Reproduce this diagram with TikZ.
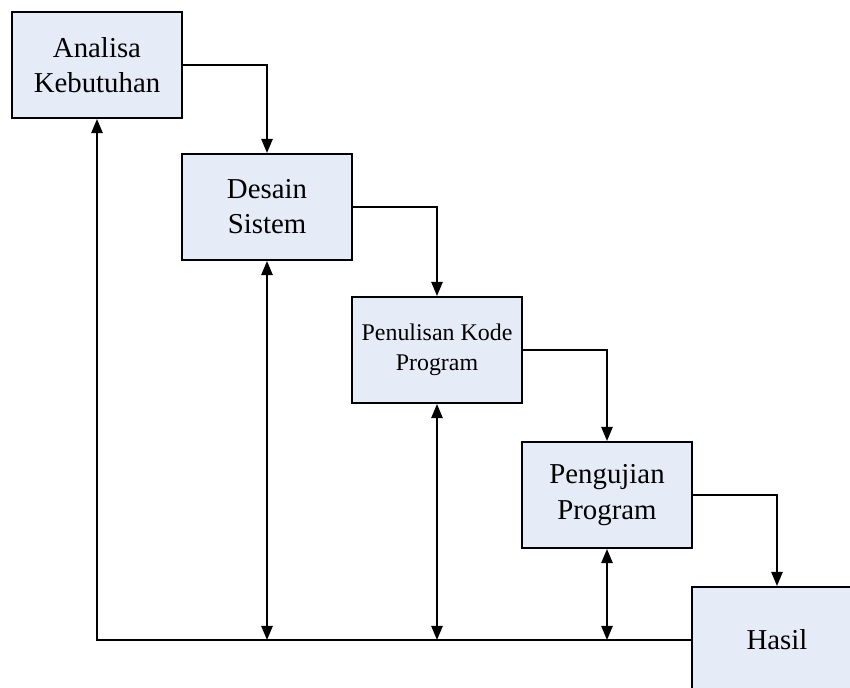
\documentclass[tikz,border=0pt]{standalone}
\usepackage{fontspec}
\setmainfont{Liberation Serif}
\usetikzlibrary{arrows.meta}
\definecolor{boxfill}{RGB}{230,236,247}

\begin{document}
\begin{tikzpicture}[x=0.025cm,y=-0.025cm,
    tahap/.style={draw,line width=1.4pt,fill=boxfill,minimum width=4.25cm,minimum height=2.65cm,align=center,font=\fontsize{20.5}{25}\selectfont},
    alur/.style={line width=1.3pt,-{Triangle[length=10pt,width=8pt]}},
    balik/.style={line width=1.3pt,{Triangle[length=10pt,width=8pt]}-{Triangle[length=10pt,width=8pt]}}]
    \clip (0,0) rectangle (850,688);
    %the five stages, each one step down and to the right
    \node[tahap] (analisa) at (97,65) {Analisa\\Kebutuhan};
    \node[tahap] (desain) at (267,207) {Desain\\Sistem};
    \node[tahap,font=\fontsize{17}{21}\selectfont] (kode) at (437,350) {Penulisan Kode\\Program};
    \node[tahap] (uji) at (607,495) {Pengujian\\Program};
    \node[tahap] (hasil) at (777,640) {Hasil};
    %waterfall arrows
    \draw[alur] (analisa.east) -| (desain.north);
    \draw[alur] (desain.east) -| (kode.north);
    \draw[alur] (kode.east) -| (uji.north);
    \draw[alur] (uji.east) -| (hasil.north);
    %feedback along the bottom line
    \draw[alur] (hasil.west) -| (analisa.south);
    \foreach \n in {desain,kode,uji}
        \draw[balik] (\n.south) -- (\n.south |- hasil.west);
\end{tikzpicture}
\end{document}
